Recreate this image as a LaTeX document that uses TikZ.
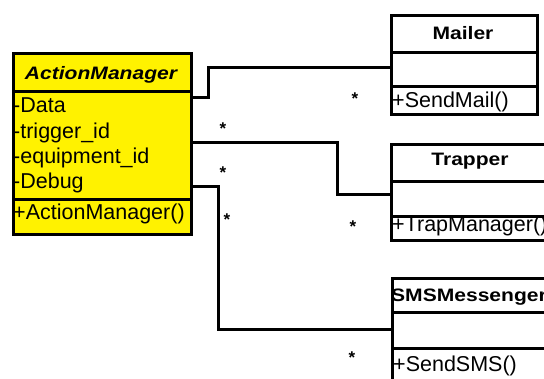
\documentclass[tikz,border=0pt]{standalone}
\usepackage{fontspec}
\setmainfont{Liberation Sans}
\newfontfamily\titlefont[FakeStretch=1.17]{Liberation Sans}
\begin{document}
\begin{tikzpicture}[x=1pt,y=-1pt,
  box/.style={draw=black, line width=3pt, fill=white, inner sep=0pt, anchor=north west},
  sep/.style={line width=3pt},
  conn/.style={line width=3pt},
  attr/.style={anchor=base west, inner sep=0pt, font=\fontsize{21.5}{25}\selectfont},
  ttl/.style={anchor=base, inner sep=0pt, font=\titlefont\bfseries\fontsize{18}{22}\selectfont},
  mult/.style={inner sep=0pt, font=\bfseries\fontsize{17}{17}\selectfont}]
\clip (0,0) rectangle (544,379);
\fill[white] (0,0) rectangle (544,379);

% class boxes
\node[box, fill=yellow, minimum width=178pt, minimum height=181pt] (am) at (12,52) {};
\node[box, minimum width=146pt, minimum height=99pt] (mailer) at (390,14) {};
\node[box, minimum width=160pt, minimum height=96pt] (trapper) at (390,143) {};
\node[box, minimum width=160pt, minimum height=112pt] (sms) at (391,277) {};

% compartment dividers
\draw[sep] (12,92) -- (190,92);
\draw[sep] (12,200) -- (190,200);
\draw[sep] (390,53) -- (536,53);
\draw[sep] (390,87) -- (536,87);
\draw[sep] (390,182) -- (550,182);
\draw[sep] (390,217) -- (550,217);
\draw[sep] (391,313) -- (551,313);
\draw[sep] (391,349) -- (551,349);

% texts
\node[ttl, font=\titlefont\bfseries\itshape\fontsize{18}{22}\selectfont] (amt) at (101,79.3) {ActionManager};
\node[attr] (a1) at (13,112.3) {-Data};
\node[attr] (a2) at (13,138.3) {-trigger\_id};
\node[attr] (a3) at (13,163.3) {-equipment\_id};
\node[attr] (a4) at (13,188.3) {-Debug};
\node[attr] (m1) at (13,219.3) {+ActionManager()};

\node[ttl] (mt) at (463,39.3) {Mailer};
\node[attr] (m2) at (392,107.3) {+SendMail()};
\node[ttl] (tt) at (470,166) {Trapper};
\node[attr] (m3) at (392,231.7) {+TrapManager()};
\node[ttl] (st) at (469,301.7) {SMSMessenger};
\node[attr] (m4) at (393,371.7) {+SendSMS()};

% connectors
\coordinate (k1) at (208,98);
\coordinate (e1) at (0,68);
\coordinate (k2) at (337,143);
\coordinate (e2) at (0,195);
\coordinate (k3) at (218,187);
\coordinate (e3) at (0,330);
\draw[conn] (am.east |- k1) -- (k1) |- (mailer.west |- e1);
\draw[conn] (am.east |- k2) -- (k2) |- (trapper.west |- e2);
\draw[conn] (am.east |- k3) -- (k3) |- (sms.west |- e3);

% multiplicities
\node[mult] (s1) at (355,99) {*};
\node[mult] (s2) at (223,129) {*};
\node[mult] (s3) at (223,173) {*};
\node[mult] (s4) at (227,220) {*};
\node[mult] (s5) at (353,227) {*};
\node[mult] (s6) at (352,358) {*};
\end{tikzpicture}
\end{document}
